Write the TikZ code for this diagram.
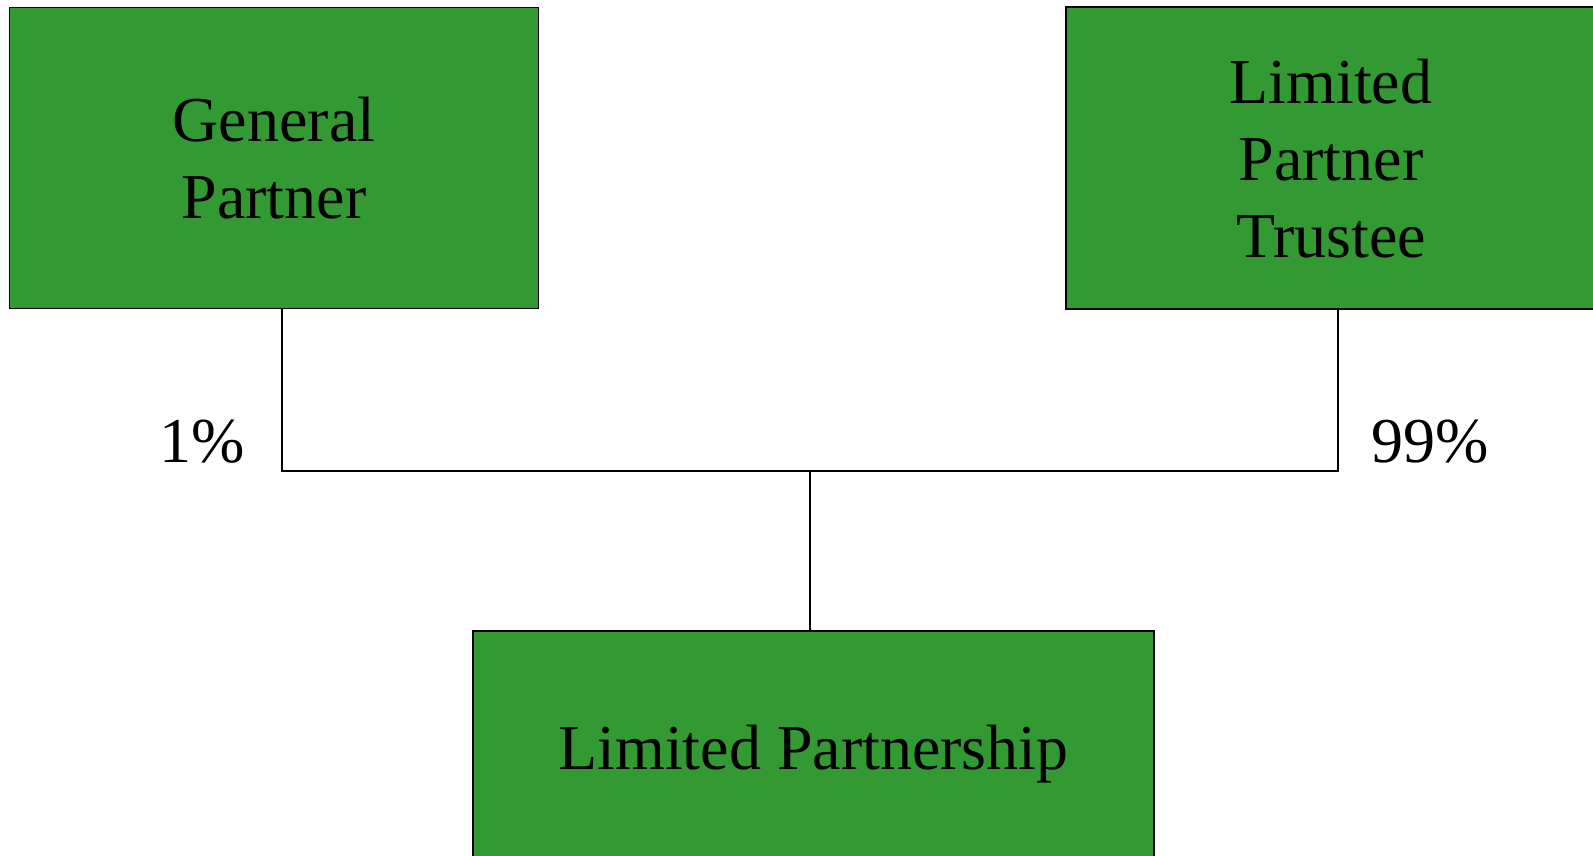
\documentclass[tikz,border=0pt]{standalone}
\usepackage{fontspec}
\setmainfont{Liberation Serif}
\definecolor{boxgreen}{RGB}{51,153,51}
\begin{document}
\begin{tikzpicture}[x=1pt,y=-1pt,
  entity/.style={draw=black,line width=1.6pt,fill=boxgreen,inner sep=0pt,
    align=center,font=\fontsize{64}{77}\selectfont},
  share/.style={font=\fontsize{64}{77}\selectfont,anchor=base,inner sep=0pt},
  conn/.style={draw=black,line width=1.5pt}]
\useasboundingbox (0,0) rectangle (1593,856);
\node[entity,minimum width=529pt,minimum height=301pt,text depth=-6pt] (gp) at (274,158) {General\\Partner};
\node[entity,minimum width=530pt,minimum height=302pt,text depth=-4pt] (lpt) at (1331,158) {Limited\\Partner\\Trustee};
\node[entity,minimum width=681pt,minimum height=246pt] (lp) at (813.5,754) {Limited Partnership};
\coordinate (jl) at (282,471);
\coordinate (jr) at (1338,471);
\coordinate (jm) at (810,471);
\draw[conn] (jl |- gp.south) -- (jl) -- (jr) -- (jr |- lpt.south);
\draw[conn] (jm) -- (jm |- lp.north);
\node[share] (p1) at (202,462) {1\%};
\node[share] (p99) at (1430,462) {99\%};
\end{tikzpicture}
\end{document}
